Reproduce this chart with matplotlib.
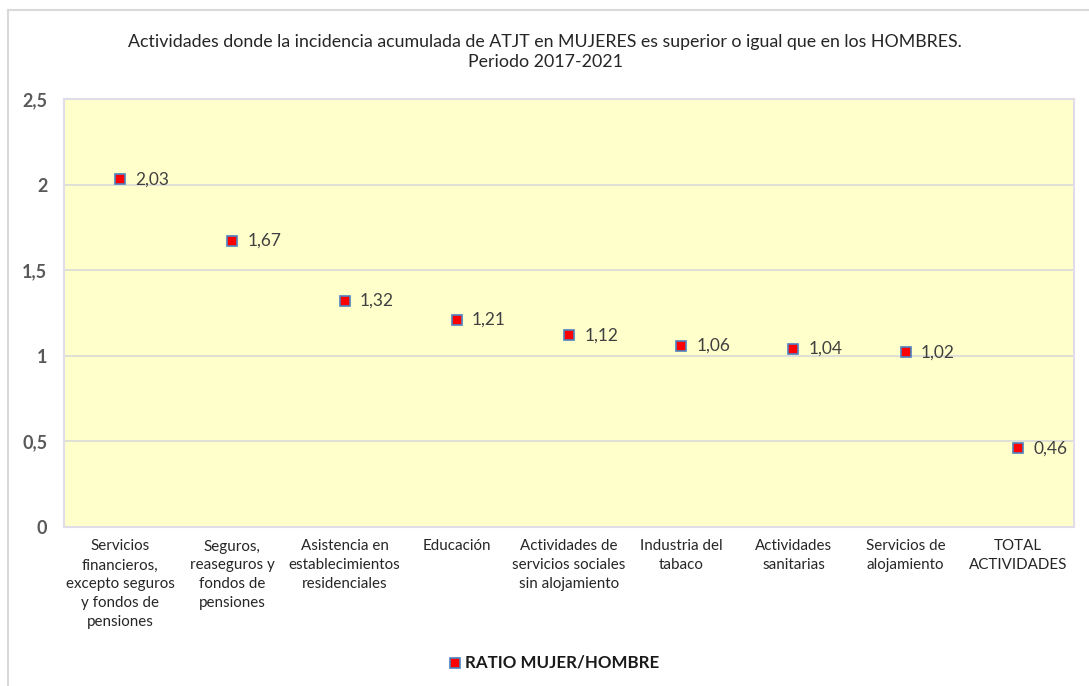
import matplotlib
matplotlib.use("Agg")
import matplotlib.pyplot as plt
from matplotlib.lines import Line2D

# Data
categorias = [
    "Servicios\nfinancieros,\nexcepto seguros\ny fondos de\npensiones",
    "Seguros,\nreaseguros y\nfondos de\npensiones",
    "Asistencia en\nestablecimientos\nresidenciales",
    "Educación",
    "Actividades de\nservicios sociales\nsin alojamiento",
    "Industria del\ntabaco",
    "Actividades\nsanitarias",
    "Servicios de\nalojamiento",
    "TOTAL\nACTIVIDADES",
]
ratio = [2.03, 1.67, 1.32, 1.21, 1.12, 1.06, 1.04, 1.02, 0.46]
yticks = [0, 0.5, 1, 1.5, 2, 2.5]
ytick_labels = ["0", "0,5", "1", "1,5", "2", "2,5"]

plt.rcParams['font.family'] = ['Lato', 'DejaVu Sans']

W, H = 1089, 686
fig = plt.figure(figsize=(W / 100, H / 100), dpi=100)

# outer chart frame (top and left edges visible)
fig.add_artist(Line2D([8 / W, 1], [1 - 10 / H, 1 - 10 / H], color="#d9d9d9", lw=1.5))
fig.add_artist(Line2D([8 / W, 8 / W], [0, 1 - 10 / H], color="#d9d9d9", lw=1.5))

left, right, top, bottom = 64, 1074, 99, 527
ax = fig.add_axes([left / W, 1 - bottom / H, (right - left) / W, (bottom - top) / H])
ax.set_facecolor("#ffffcc")

x = list(range(len(categorias)))
ax.plot(x, ratio, linestyle="none", marker="s", markersize=7.5,
        markerfacecolor="#ff0000", markeredgecolor="#4f81bd", markeredgewidth=1.2, zorder=3)
for xi, v in zip(x, ratio):
    ax.annotate(f"{v:.2f}".replace(".", ","), (xi, v), xytext=(11, 0),
                textcoords="offset points", va="center", ha="left",
                fontsize=12.5, color="#404040")

ax.set_xlim(-0.5, len(categorias) - 0.5)
ax.set_ylim(0, 2.5)
ax.set_yticks(yticks)
ax.set_yticklabels(ytick_labels, fontsize=13, fontweight="bold", color="#595959")
ax.set_xticks(x)
ax.set_xticklabels(categorias, fontsize=10.9, color="#262626", linespacing=1.45, va="top")
ax.tick_params(axis="both", length=0)
ax.tick_params(axis="y", pad=12)
ax.tick_params(axis="x", pad=9)
ax.grid(axis="y", color="#d9d9d9", lw=1.2)
ax.set_axisbelow(True)
for s in ax.spines.values():
    s.set_color("#e0dce8")
    s.set_linewidth(1.5)

fig.text(545 / W, 1 - 52 / H,
         "Actividades donde la incidencia acumulada de ATJT en MUJERES es superior o igual que en los HOMBRES.\nPeriodo 2017-2021",
         ha="center", va="center", fontsize=12.75, color="#262626", linespacing=1.3)

# legend
fig.add_artist(Line2D([455 / W], [1 - 663 / H], marker="s", markersize=7.5, linestyle="none",
                      markerfacecolor="#ff0000", markeredgecolor="#4f81bd", markeredgewidth=1.2))
fig.text(465 / W, 1 - 663 / H, "RATIO MUJER/HOMBRE", ha="left", va="center",
         fontsize=12.2, fontweight="bold", color="#1a1a1a")

fig.savefig("out.png", dpi=100)
